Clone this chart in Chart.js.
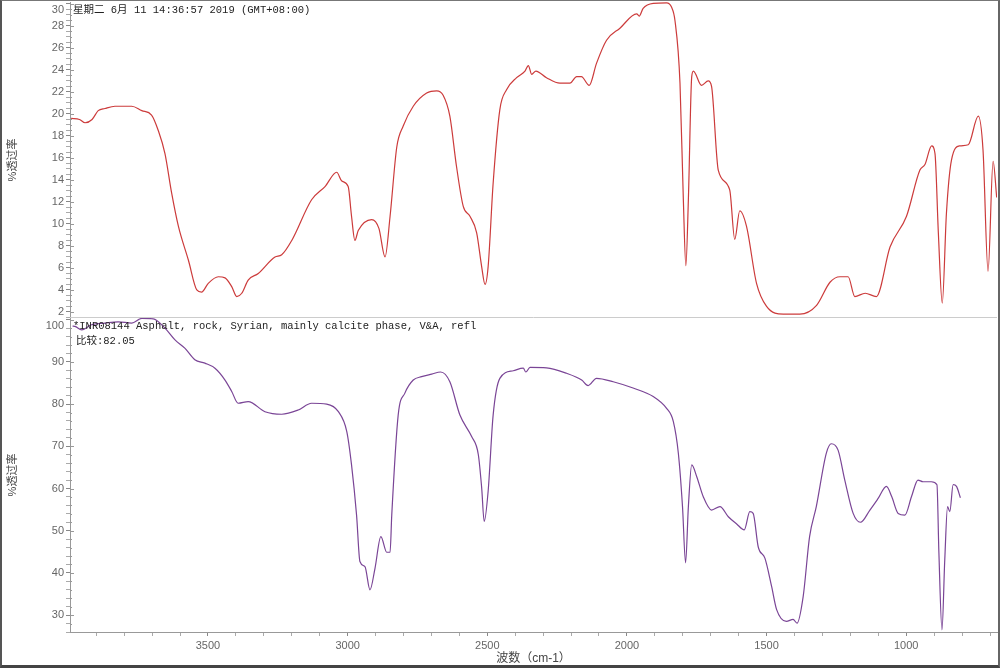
<!DOCTYPE html>
<html>
<head>
<meta charset="utf-8">
<script src="https://cdn.jsdelivr.net/npm/chart.js@4.4.1/dist/chart.umd.min.js"></script>
<style>
  body { margin: 0; background: #fff; }
  #frame {
    position: relative; width: 1000px; height: 668px; box-sizing: border-box;
    border-left: 2px solid #555; border-right: 2px solid #666;
    border-bottom: 3px solid #444; border-top: 1px solid #777; overflow: hidden;
  }
  #topWrap { position: absolute; left: 0; top: 0; width: 996px; height: 317px; }
  #botWrap { position: absolute; left: 0; top: 317px; width: 996px; height: 347px; }
</style>
</head>
<body>
<div id="frame">
  <div id="topWrap"><canvas id="topChart"></canvas></div>
  <div id="botWrap"><canvas id="botChart"></canvas></div>
</div>
<script>
// top spectrum (sample), wavenumber cm-1 / %T
const topWave = [3990, 3960, 3940, 3915, 3893, 3869, 3833, 3773, 3737, 3702, 3678, 3654, 3630, 3606, 3570, 3540, 3523, 3499, 3463, 3439, 3415, 3397, 3379, 3356, 3320, 3260, 3236, 3200, 3129, 3081, 3039, 3021, 2998, 2986, 2974, 2962, 2914, 2888, 2866, 2848, 2824, 2801, 2765, 2717, 2681, 2658, 2634, 2610, 2586, 2562, 2538, 2520, 2508, 2497, 2479, 2455, 2431, 2395, 2365, 2353, 2341, 2326, 2288, 2240, 2204, 2180, 2163, 2135, 2109, 2073, 2025, 1965, 1956, 1942, 1906, 1858, 1840, 1828, 1810, 1798, 1789, 1780, 1768, 1762, 1733, 1709, 1697, 1673, 1632, 1614, 1596, 1572, 1536, 1500, 1440, 1381, 1321, 1273, 1237, 1208, 1184, 1147, 1107, 1058, 999, 951, 933, 909, 897, 885, 871, 856, 838, 808, 778, 742, 725, 707, 689, 676];
const topT = [19.6, 19.5, 19.2, 19.5, 20.3, 20.5, 20.7, 20.7, 20.3, 19.9, 18.5, 16.4, 12.8, 9.8, 6.7, 4.0, 3.8, 4.6, 5.2, 5.1, 4.3, 3.4, 3.7, 4.9, 5.5, 7.0, 7.2, 8.5, 12.2, 13.4, 14.7, 13.9, 13.4, 10.7, 8.5, 9.4, 10.4, 9.6, 7.0, 10.7, 17.0, 18.9, 20.7, 21.9, 22.1, 21.7, 19.8, 15.2, 11.6, 10.7, 9.2, 6.1, 4.5, 6.1, 13.7, 20.4, 22.2, 23.3, 23.9, 24.4, 23.6, 23.9, 23.3, 22.8, 22.8, 23.4, 23.4, 22.6, 24.6, 26.7, 27.8, 29.1, 28.9, 29.6, 30.05, 30.1, 29.7, 28.5, 22.8, 12.2, 6.2, 12.2, 23.4, 23.9, 22.6, 23.0, 22.5, 14.9, 13.1, 8.6, 11.2, 9.8, 4.6, 2.5, 1.8, 1.8, 2.6, 4.7, 5.2, 5.2, 3.4, 3.7, 3.4, 7.9, 10.7, 14.9, 15.4, 17.1, 16.4, 9.2, 2.8, 11.0, 15.8, 17.1, 17.2, 19.8, 16.7, 5.7, 15.7, 12.4];

// bottom spectrum (library match)
const botWave = [3985, 3976, 3952, 3917, 3869, 3821, 3773, 3737, 3696, 3654, 3618, 3582, 3547, 3511, 3475, 3439, 3415, 3392, 3356, 3296, 3236, 3177, 3129, 3075, 3033, 3003, 2986, 2968, 2956, 2938, 2920, 2902, 2881, 2860, 2848, 2842, 2819, 2795, 2765, 2735, 2699, 2667, 2634, 2598, 2556, 2532, 2520, 2511, 2497, 2479, 2455, 2407, 2371, 2362, 2347, 2288, 2216, 2162, 2139, 2109, 2049, 1978, 1906, 1858, 1834, 1816, 1801, 1790, 1780, 1768, 1750, 1727, 1697, 1667, 1637, 1607, 1580, 1560, 1548, 1530, 1506, 1482, 1464, 1429, 1405, 1391, 1369, 1346, 1322, 1286, 1268, 1244, 1220, 1190, 1164, 1130, 1100, 1071, 1052, 1029, 1005, 981, 958, 940, 910, 890, 883, 872, 862, 852, 844, 832, 820, 806];
const botT = [98.5, 98.4, 97.6, 98.8, 99.2, 99.5, 99.2, 100.3, 100.2, 98.0, 95.2, 93.2, 90.5, 89.7, 88.5, 85.7, 83.0, 80.2, 80.6, 78.2, 77.6, 78.6, 80.2, 80.0, 78.2, 73.5, 65.6, 53.7, 42.7, 41.5, 36.0, 41.1, 48.6, 44.9, 44.9, 53.7, 77.4, 82.6, 85.7, 86.5, 87.1, 87.6, 85.3, 77.4, 72.3, 68.0, 60.1, 52.2, 59.3, 77.4, 86.1, 87.9, 88.5, 87.6, 88.7, 88.6, 87.3, 85.7, 84.4, 86.1, 85.3, 83.8, 81.8, 79.0, 75.9, 68.4, 55.7, 42.4, 55.7, 65.6, 62.8, 58.1, 54.9, 55.7, 53.3, 51.6, 50.2, 54.5, 54.1, 46.2, 43.5, 36.8, 31.3, 28.5, 29.0, 28.1, 34.4, 48.6, 55.7, 68.4, 70.6, 69.1, 62.0, 54.1, 52.0, 54.9, 57.7, 60.5, 58.1, 54.1, 53.7, 58.1, 62.0, 61.6, 61.6, 60.9, 44.7, 26.5, 43.1, 55.7, 54.5, 60.9, 60.5, 57.8];

const xMin = 675, xMax = 3994;
const topRange = [1.45, 30.18], topMajor = 2, topMinor = 0.5;
const botRange = [26.0, 100.4], botMajor = 10, botMinor = 2;

const topNote = ["星期二 6月 11 14:36:57 2019 (GMT+08:00)"];
const botNote = ["*INR08144 Asphalt, rock, Syrian, mainly calcite phase, V&A, refl", "比较:82.05"];

const tickFont = { family: "'Liberation Sans', Arial, sans-serif", size: 11 };
const noteFont = "10.5px 'Liberation Mono', 'Noto Sans CJK SC', monospace";

function isMajor(v, step) {
  return Math.abs(v / step - Math.round(v / step)) < 1e-6;
}

function minorTicks(from, to, step) {
  const t = [];
  for (let v = from; v <= to + 1e-9; v += step) t.push({ value: +v.toFixed(3) });
  return t;
}

// draws the clamped top label, inward tick halves, notes
function panelPlugin(notes, topLabel, major) {
  return {
    id: "panel",
    afterDraw(chart) {
      const c = chart.ctx;
      const a = chart.chartArea;
      const y = chart.scales.y;
      c.save();
      c.strokeStyle = "#999";
      c.lineWidth = 1;
      y.ticks.forEach((t) => {
        const py = Math.round(y.getPixelForValue(t.value)) + 0.5;
        if (py < a.top || py > a.bottom) return;
        const len = isMajor(t.value, major) ? 4 : 2;
        c.beginPath();
        c.moveTo(a.left, py);
        c.lineTo(a.left + len, py);
        c.stroke();
      });
      // top label pushed inside the panel
      c.fillStyle = "#666";
      c.font = "11px 'Liberation Sans', Arial, sans-serif";
      c.textAlign = "right";
      c.textBaseline = "top";
      c.fillText(topLabel, a.left - 6, a.top + 2);
      // notes
      c.fillStyle = "#222";
      c.font = noteFont;
      c.textAlign = "left";
      c.textBaseline = "middle";
      notes.forEach((n, i) => c.fillText(n, a.left + 3 + (i ? 3 : 0), a.top + 8 + i * 15));
      c.restore();
    },
  };
}

const linePlugin = {
  id: "sep",
  afterDraw(chart) {
    const c = chart.ctx;
    const a = chart.chartArea;
    c.save();
    c.strokeStyle = "#ccc";
    c.beginPath();
    c.moveTo(a.left, a.bottom - 0.5);
    c.lineTo(a.right, a.bottom - 0.5);
    c.stroke();
    c.restore();
  },
};

function makeChart(id, waves, vals, color, range, major, minor, topLabel, notes, showX) {
  const ctx = document.getElementById(id).getContext("2d");
  const plugins = [panelPlugin(notes, topLabel, major)];
  if (!showX) plugins.push(linePlugin);
  return new Chart(ctx, {
    type: "line",
    data: {
      datasets: [
        {
          data: waves.map((w, i) => ({ x: w, y: vals[i] })),
          borderColor: color,
          borderWidth: 1.2,
          pointRadius: 0,
          cubicInterpolationMode: "monotone",
          fill: false,
        },
      ],
    },
    options: {
      responsive: true,
      maintainAspectRatio: false,
      animation: false,
      events: [],
      layout: { padding: { left: 0, right: 1, top: showX ? 0 : 1, bottom: 0 } },
      plugins: { legend: { display: false }, tooltip: { enabled: false } },
      scales: {
        x: {
          type: "linear",
          reverse: true,
          min: xMin,
          max: xMax,
          display: showX,
          afterBuildTicks: (s) => { s.ticks = minorTicks(700, 3900, 100); },
          afterFit: (s) => {
            if (showX) s.height = 33;
            s.paddingLeft = 0;
            s.paddingRight = 0;
          },
          grid: {
            drawOnChartArea: false,
            tickLength: 4,
            tickColor: (c) => (c.tick && isMajor(c.tick.value, 500) ? "#888" : "#aaa"),
          },
          border: { color: "#999" },
          ticks: {
            autoSkip: false,
            maxRotation: 0,
            padding: 3,
            color: "#666",
            font: tickFont,
            callback: (v) => (isMajor(v, 500) ? String(v) : ""),
          },
          title: {
            display: true,
            text: "波数（cm-1）",
            color: "#444",
            font: { family: "'Liberation Sans', 'Noto Sans CJK SC', sans-serif", size: 12 },
            padding: { top: 0, bottom: -1 },
          },
        },
        y: {
          min: range[0],
          max: range[1],
          afterBuildTicks: (s) => {
            s.ticks = minorTicks(Math.ceil(range[0] / minor) * minor, Math.floor(range[1] / minor) * minor, minor);
          },
          afterFit: (s) => { s.width = 68; s.paddingTop = 0; s.paddingBottom = 0; },
          grid: {
            drawOnChartArea: false,
            tickLength: 4,
            tickColor: (c) => (c.tick && isMajor(c.tick.value, major) ? "#888" : "#aaa"),
          },
          border: { color: "#999" },
          ticks: {
            autoSkip: false,
            padding: 2,
            color: "#666",
            font: tickFont,
            callback: (v) => (isMajor(v, major) && String(v) !== topLabel ? String(v) : ""),
          },
          title: {
            display: true,
            text: "%透过率",
            color: "#444",
            font: { family: "'Liberation Sans', 'Noto Sans CJK SC', sans-serif", size: 11 },
            padding: { top: 4, bottom: 0 },
          },
        },
      },
    },
    plugins: plugins,
  });
}

makeChart("topChart", topWave, topT, "#cc3b3b", topRange, topMajor, topMinor, "30", topNote, false);
makeChart("botChart", botWave, botT, "#7a4596", botRange, botMajor, botMinor, "100", botNote, true);
</script>
</body>
</html>
